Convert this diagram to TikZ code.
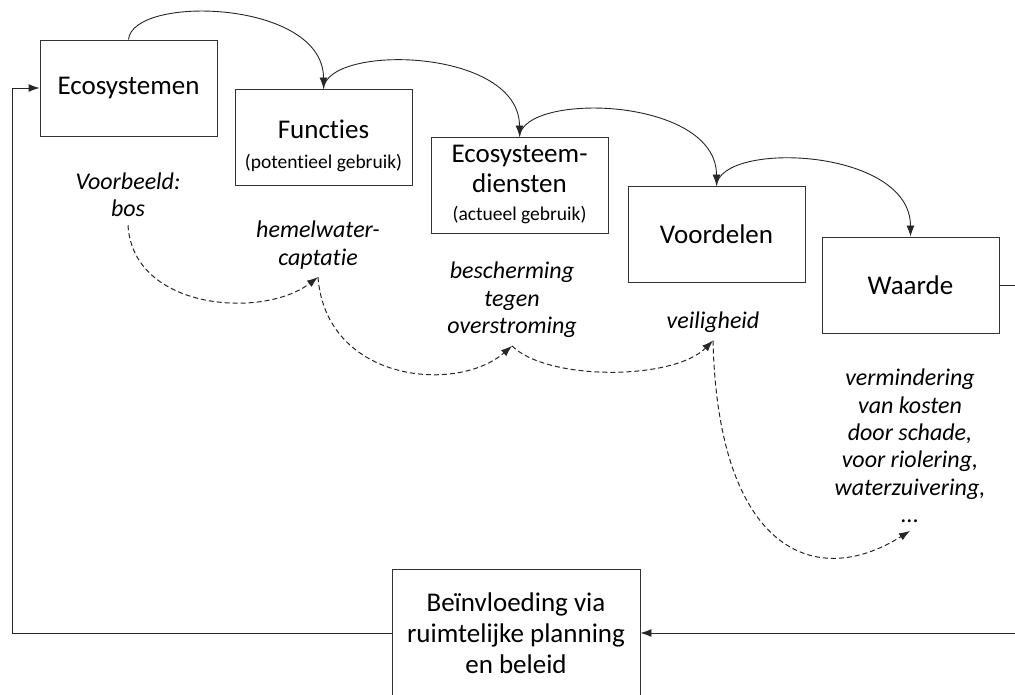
\documentclass[tikz,border=0pt]{standalone}
\usepackage{fontspec}
\setmainfont{Carlito}[Ligatures=NoCommon]
\usetikzlibrary{arrows.meta}
\newcommand{\sub}[1]{{\fontsize{19.5}{23}\selectfont #1}}
\begin{document}
\begin{tikzpicture}[x=1pt,y=-1pt,
	blok/.style={draw=black!80, line width=0.9pt, minimum width=177pt, minimum height=96pt,
		inner sep=0pt, align=center, font=\fontsize{27}{32}\selectfont},
	vb/.style={align=center, inner sep=8pt, font=\fontsize{24}{27.3}\selectfont\itshape},
	pijl/.style={-{Latex[length=11pt,width=8pt]}, line width=0.9pt, draw=black!85},
	stip/.style={-{Latex[length=11pt,width=8pt]}, dash pattern=on 5pt off 3pt, line width=1pt, draw=black!85}]
	\useasboundingbox (0,0) rectangle (1015,695);
	% de keten
	\node[blok] (eco) at (128.5,88) {Ecosystemen};
	\node[blok] (fun) at (323.5,137) {\rule{0pt}{36pt}Functies\\[-2pt]\sub{(potentieel gebruik)}};
	\node[blok] (dienst) at (519.5,185) {Ecosysteem-\\[-2pt]diensten\\[-4pt]\sub{(actueel gebruik)}};
	\node[blok] (voor) at (716.5,234) {Voordelen};
	\node[blok] (waarde) at (910.5,285) {Waarde};
	\node[blok, minimum width=248pt, minimum height=128pt,
		font=\fontsize{27}{31}\selectfont] (invloed) at (516,633)
		{Beïnvloeding via\\ruimtelijke planning\\en beleid};
	% voorbeelden
	\node[vb] (bos) at (128,195) {Voorbeeld:\\bos};
	\node[vb] (hemel) at (318,245) {hemelwater-\\captatie};
	\node[vb] (bescherm) at (512,300) {bescherming\\tegen\\overstroming};
	\node[vb] (veilig) at (713,322) {veiligheid};
	\node[vb] (kosten) at (910,446) {vermindering\\van kosten\\door schade,\\voor riolering,\\waterzuivering,\\...};
	% pijlen tussen de blokken
	\foreach \a/\b in {eco/fun, fun/dienst, dienst/voor, voor/waarde}
		\draw[pijl] (\a.north) .. controls +(4,-45) and +(0,-89) .. (\b.north);
	% terugkoppeling
	\coordinate (rechts) at (1030,285);
	\coordinate (links) at (12,633);
	\draw[pijl] (waarde.east) -- (rechts) |- (invloed.east);
	\draw[pijl] (invloed.west) -- (links) |- (eco.west);
	% gestippelde pijlen
	\draw[stip] (bos.south) .. controls +(5,85) and +(-55,42) .. (hemel.south);
	\draw[stip] (hemel.south) .. controls +(8,105) and +(-55,48) .. (bescherm.south);
	\draw[stip] (bescherm.south) .. controls +(35,35) and +(-40,40) .. (veilig.south);
	\draw[stip] (veilig.south) .. controls +(5,210) and +(-95,60) .. (kosten.south);
\end{tikzpicture}
\end{document}
